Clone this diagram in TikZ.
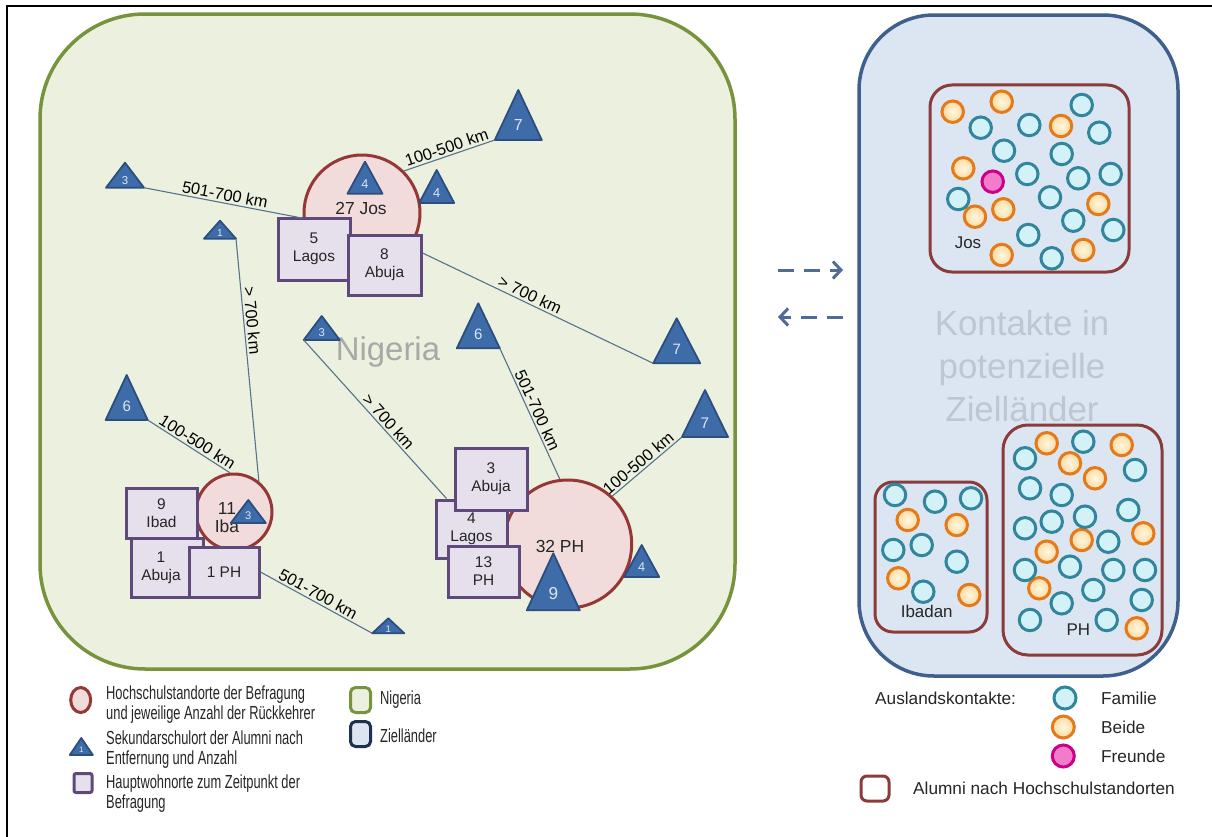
\documentclass[tikz,border=0pt]{standalone}
\usepackage{fontspec}
\setmainfont{Liberation Sans}
\newfontfamily\narrowsans[FakeStretch=0.68]{Liberation Sans}
\usetikzlibrary{shapes.geometric,arrows.meta}

\definecolor{nigfill}{HTML}{EBF1DE}
\definecolor{nigline}{HTML}{77933C}
\definecolor{zielfill}{HTML}{DCE6F2}
\definecolor{zielline}{HTML}{3F5F8C}
\definecolor{zieldark}{HTML}{1F3150}
\definecolor{hsline}{HTML}{953735}
\definecolor{hsfill}{HTML}{F2DCDB}
\definecolor{boxline}{HTML}{5F497A}
\definecolor{boxfill}{HTML}{E6E0EC}
\definecolor{trifill}{HTML}{3E6CA9}
\definecolor{triline}{HTML}{2B4E7E}
\definecolor{trinum}{HTML}{DCE6F2}
\definecolor{linkcol}{HTML}{56728F}
\definecolor{famline}{HTML}{31859C}
\definecolor{famfill}{HTML}{D3F2F7}
\definecolor{beiline}{HTML}{E47A1A}
\definecolor{beifill}{HTML}{FCD9A0}
\definecolor{beicore}{HTML}{FFF8E0}
\definecolor{freline}{HTML}{CC0088}
\definecolor{frefill}{HTML}{F27CC9}
\definecolor{alumline}{HTML}{8C3B3B}
\definecolor{arrcol}{HTML}{4F6C98}
\definecolor{bigtxt}{HTML}{A8A8A8}
\definecolor{bigtxtb}{HTML}{BDC6D3}
\definecolor{txt}{HTML}{262626}

% triangle marker: name, apex x, apex y, width, height, count
\newcommand\trimark[6]{%
  \pgfmathsetmacro\trifs{7+0.18*#5}%
  \draw[tri] (#2,#3) coordinate (#1-a) -- ({#2-#4/2},{#3+#5}) coordinate (#1-l)
    -- ({#2+#4/2},{#3+#5}) coordinate (#1-r) -- cycle;
  \node[trilbl, font=\fontsize{\trifs}{\trifs}\selectfont] (#1) at (#2,{#3+0.7*#5}) {#6};
}

\begin{document}
\begin{tikzpicture}[x=1bp,y=-1bp,
  panel/.style={line width=3.5bp},
  hs/.style={circle, draw=hsline, fill=hsfill, line width=3bp, inner sep=0},
  hslbl/.style={align=center, text=txt, inner sep=0, font=\fontsize{17.5}{18}\selectfont},
  home/.style={rectangle, draw=boxline, fill=boxfill, line width=3bp, inner sep=0,
    align=center, text=txt, font=\fontsize{15.5}{18}\selectfont},
  tri/.style={draw=triline, fill=trifill, line width=1.8bp, line join=round},
  trilbl/.style={text=trinum, inner sep=0},
  link/.style={draw=linkcol, line width=1.1bp},
  dist/.style={font=\fontsize{16.5}{18}\selectfont, sloped, above, inner sep=2bp, text=black},
  alum/.style={rectangle, draw=alumline, line width=3bp, inner sep=0},
  fam/.style={circle, draw=famline, fill=famfill, line width=3bp, minimum size=21.5bp, inner sep=0},
  bei/.style={circle, draw=beiline, inner color=beicore, outer color=beifill, line width=3bp, minimum size=21.5bp, inner sep=0},
  fre/.style={circle, draw=freline, fill=frefill, line width=3bp, minimum size=21.5bp, inner sep=0},
  sitelbl/.style={text=txt, inner sep=0, font=\fontsize{17}{18}\selectfont},
  legn/.style={anchor=west, align=left, text=txt, inner sep=0, font=\narrowsans\fontsize{19}{20}\selectfont},
  legr/.style={anchor=west, align=left, text=txt, inner sep=0, font=\fontsize{17.3}{20}\selectfont},
  xarrow/.style={draw=arrcol, line width=3bp, dash pattern=on 16bp off 10bp,
    -{Straight Barb[length=8bp,width=17bp,line width=3bp]}}
]
\useasboundingbox (0,0) rectangle (1212,837);
\fill[white] (0,0) rectangle (1212,837);
\draw[black, line width=1.3bp] (7,837) -- (7,6) -- (1212,6);

% the two regions
\draw[panel, draw=nigline, fill=nigfill, rounded corners=105bp] (40,14) rectangle (735,669);
\draw[panel, draw=zielline, fill=zielfill, rounded corners=75bp] (859,15) rectangle (1178,676);

\node[text=bigtxt, font=\fontsize{33}{36}\selectfont, inner sep=0] (nigtitle) at (388,352) {Nigeria};
\node[text=bigtxtb, font=\fontsize{35}{43}\selectfont, align=center, inner sep=0] (zieltitle) at (1022,366)
  {Kontakte in\\potenzielle\\Zielländer};

% exchange arrows between the regions
\coordinate (ao1) at (778,270); \coordinate (ai1) at (843,270);
\coordinate (ao2) at (843,317); \coordinate (ai2) at (778,317);
\draw[xarrow] (ao1) -- (ai1);
\draw[xarrow] (ao2) -- (ai2);

% university sites
\node[hs, minimum size=116bp] (jos) at (362,213) {};
\node[hs, minimum size=76bp] (iba) at (234,512) {};
\node[hs, minimum size=128bp] (ph) at (567.7,544) {};

% main residences
\node[home, minimum width=72bp, minimum height=62bp] (jlagos) at (314,249) {5\\Lagos};
\node[home, minimum width=73bp, minimum height=60bp] (jabuja) at (384.5,265) {8\\Abuja};
\node[home, minimum width=71bp, minimum height=50bp] (ibad) at (161.5,513) {9\\Ibad};
\node[home, minimum width=72bp, minimum height=59bp] (iabuja) at (167,567.5) {\hspace*{-12bp}1\\\hspace*{-12bp}Abuja};
\node[home, minimum width=70bp, minimum height=50bp] (iph) at (224,572) {1 PH};
\node[home, minimum width=71bp, minimum height=58bp] (plagos) at (471.5,529) {4\\Lagos};
\node[home, minimum width=71bp, minimum height=51bp] (pph) at (483.5,571.5) {13\\PH};
\node[home, minimum width=72bp, minimum height=62bp] (pabuja) at (491,479) {3\\Abuja};

\node[hslbl] (joslbl) at (361,208) {27 Jos};
\node[hslbl] (ibalbl) at (227,518) {11\\Iba};
\node[hslbl] (phlbl) at (560,546.7) {32 PH};

% secondary school places
\trimark{t3a}{125}{162.7}{38}{25}{3}
\trimark{t1a}{220}{220.7}{32}{18}{1}
\trimark{tj4a}{365}{161.7}{35}{32}{4}
\trimark{tj4b}{436.7}{170}{35}{33}{4}
\trimark{t7a}{518.3}{90}{47}{50}{7}
\trimark{t3b}{321.7}{316}{36}{24}{3}
\trimark{t6a}{478.3}{303.3}{43}{45}{6}
\trimark{t7b}{676.7}{318.3}{47}{45}{7}
\trimark{t7c}{705}{390}{46}{47}{7}
\trimark{t6b}{126.7}{375}{42}{45}{6}
\trimark{ti3}{248.3}{500}{35}{23}{3}
\trimark{tp4}{641.7}{545}{35}{32}{4}
\trimark{tp9}{553.3}{553.3}{53}{57}{9}
\trimark{t1b}{388.3}{618.3}{32}{15}{1}

% distances
\draw[link] (t3a-r) -- node[dist] {501-700 km} (jos.185);
\draw[link] (jos.45) -- node[dist] {100-500 km} (t7a-l);
\draw[link] ([yshift=12bp]jabuja.east) -- node[dist, pos=0.45] {> 700 km} (t7b-l);
\draw[link] (t1a-r) -- node[dist, pos=0.34] {> 700 km} (iba.51);
\draw[link] (t3b-l) -- node[dist, pos=0.55] {> 700 km} ([xshift=12bp]plagos.north west);
\draw[link] (t6a-r) -- node[dist] {501-700 km} (ph.97);
\draw[link] (ph.47) -- node[dist, pos=0.45] {100-500 km} (t7c-l);
\draw[link] (t6b-r) -- node[dist, pos=0.55] {100-500 km} (iba.96);
\draw[link] (iph.east) -- node[dist, pos=0.48] {501-700 km} (t1b-l);

% contacts abroad, grouped by university site
\node[alum, rounded corners=22bp, minimum width=199bp, minimum height=187bp] (josbox) at (1029.5,178.5) {};
\node[alum, rounded corners=18bp, minimum width=112bp, minimum height=150bp] (ibabox) at (931,557) {};
\node[alum, rounded corners=25bp, minimum width=159bp, minimum height=230bp] (phbox) at (1082.5,540) {};

\foreach \x/\y [count=\i] in {952.7/111.7, 1001.7/101.7, 1061/126, 963.3/168.3, 1003.3/209.3,
    975/216.7, 1098.3/204, 1001.7/255, 1083.3/250}
  \node[bei] (jb\i) at (\x,\y) {};
\foreach \x/\y [count=\i] in {1081.7/105, 980.7/127.7, 1029.3/125, 1099.3/132.7, 1004/150.7,
    1061.7/154, 1027.3/174, 1078.3/178.3, 1110.7/174, 958.3/199, 1050/197.3, 1073.3/220.7,
    1113.3/230, 1028.3/235, 1051.7/258.3}
  \node[fam] (jf\i) at (\x,\y) {};
\node[fre] (jfr1) at (992.7,181.7) {};

\foreach \x/\y [count=\i] in {895/495, 935/501.7, 971/498.3, 893.3/550, 921.7/545, 956.7/561.7, 923.3/591.7}
  \node[fam] (if\i) at (\x,\y) {};
\foreach \x/\y [count=\i] in {907.7/520, 956.7/525, 898.3/578.3, 969.3/595}
  \node[bei] (ib\i) at (\x,\y) {};

\foreach \x/\y [count=\i] in {1046.7/443.3, 1121.7/445, 1070/463.3, 1095/478.3, 1143.3/533.3,
    1081.7/540, 1046.7/551.7, 1039.3/588.3, 1136.7/628.3}
  \node[bei] (pb\i) at (\x,\y) {};
\foreach \x/\y [count=\i] in {1083.3/441.7, 1025/458.3, 1135/470, 1030/488.3, 1061.7/495,
    1128.3/510, 1025/528.3, 1051.7/521.7, 1085/516.7, 1108.3/541.7, 1025/570, 1070/566.7,
    1113.3/570, 1145/570, 1093.3/590, 1061.7/603.3, 1141.7/600, 1030/620, 1106.7/620}
  \node[fam] (pf\i) at (\x,\y) {};

\node[sitelbl] (joslab) at (968,243) {Jos};
\node[sitelbl] (ibalab) at (926.7,611.7) {Ibadan};
\node[sitelbl] (phlab) at (1078.3,630) {PH};

% legend, left part
\node[ellipse, draw=hsline, fill=hsfill, line width=3bp, minimum width=20bp, minimum height=25bp, inner sep=0] (lghs) at (80.7,700) {};
\node[legn] (lghst) at (106,705) {Hochschulstandorte der Befragung\\und jeweilige Anzahl der Rückkehrer};
\trimark{lgtri}{81.3}{738}{23}{17}{}
\node[text=trinum, inner sep=0, font=\fontsize{8}{8}\selectfont] (lgtrin) at (81.3,750) {1};
\node[legn] (lgtrit) at (106,750) {Sekundarschulort der Alumni nach\\Entfernung und Anzahl};
\node[rectangle, draw=boxline, fill=boxfill, line width=3bp, rounded corners=2bp, minimum width=18bp, minimum height=19bp, inner sep=0] (lghome) at (83,783) {};
\node[legn] (lghomet) at (106,794) {Hauptwohnorte zum Zeitpunkt der\\Befragung};

\node[rectangle, draw=nigline, fill=nigfill, line width=3bp, rounded corners=5bp, minimum width=20bp, minimum height=25bp, inner sep=0] (lgnig) at (360.5,700) {};
\node[legn] (lgnigt) at (380,700) {Nigeria};
\node[rectangle, draw=zieldark, fill=zielfill, line width=3bp, rounded corners=5bp, minimum width=20bp, minimum height=25bp, inner sep=0] (lgziel) at (360.5,734) {};
\node[legn] (lgzielt) at (380,736) {Zielländer};

% legend, right part
\node[legr] (lgausl) at (875,698) {Auslandskontakte:};
\node[fam, minimum size=22bp] (lgfam) at (1065,698) {};
\node[legr] (lgfamt) at (1101,698) {Familie};
\node[bei, minimum size=22bp] (lgbei) at (1063.3,727) {};
\node[legr] (lgbeit) at (1101,727) {Beide};
\node[fre, minimum size=22bp] (lgfre) at (1063.3,756) {};
\node[legr] (lgfret) at (1101,756) {Freunde};
\node[alum, fill=white, rounded corners=6bp, minimum width=28bp, minimum height=25bp] (lgalum) at (875,788.5) {};
\node[legr] (lgalumt) at (913,788) {Alumni nach Hochschulstandorten};
\end{tikzpicture}
\end{document}
